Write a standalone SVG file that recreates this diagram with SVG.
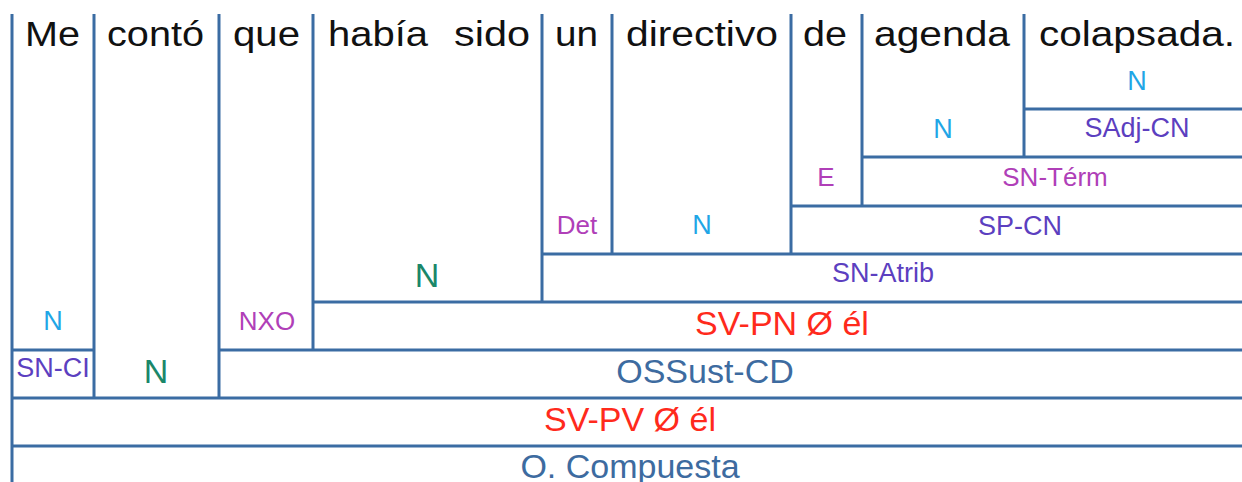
<svg xmlns="http://www.w3.org/2000/svg" width="1242" height="482" viewBox="0 0 1242 482">
<style>
text{font-family:"Liberation Sans",Arial,sans-serif}
.w{font-size:35px;fill:#111}
.l{stroke:#3B6CA3;stroke-width:3;fill:none;stroke-linecap:butt}
.cy{fill:#1FA6E6;font-size:27px;text-anchor:middle}
.mg{fill:#B03FB8;font-size:26px;text-anchor:middle}
.vi{fill:#5C3FC0;font-size:27px;text-anchor:middle}
.gr{fill:#1B8769;font-size:34px;text-anchor:middle}
.rd{fill:#FF2A1C;font-size:34px;text-anchor:middle}
.bl{fill:#3D6BA0;font-size:34px;text-anchor:middle}
</style>
<rect width="1242" height="482" fill="#fff"/>
<g id="connectors" class="l">
<path d="M12 14V482M94 14V398M219 14V398M313 14V350M542 14V302M612 14V254M791 14V254M862 14V206M1024 14V157"/>
<path d="M1024 109H1242M862 157H1242M791 206H1242M542 254H1242M313 302H1242M12 350H94M219 350H1242M12 398H1242M12 446H1242"/>
</g>
<g id="words">
<text class="w" x="25" y="46" textLength="55" lengthAdjust="spacingAndGlyphs">Me</text>
<text class="w" x="107" y="46" textLength="97" lengthAdjust="spacingAndGlyphs">contó</text>
<text class="w" x="233" y="46" textLength="67" lengthAdjust="spacingAndGlyphs">que</text>
<text class="w" x="328" y="46" textLength="100" lengthAdjust="spacingAndGlyphs">había</text>
<text class="w" x="454" y="46" textLength="76" lengthAdjust="spacingAndGlyphs">sido</text>
<text class="w" x="555" y="46" textLength="43" lengthAdjust="spacingAndGlyphs">un</text>
<text class="w" x="626" y="46" textLength="152" lengthAdjust="spacingAndGlyphs">directivo</text>
<text class="w" x="803" y="46" textLength="44" lengthAdjust="spacingAndGlyphs">de</text>
<text class="w" x="874" y="46" textLength="136" lengthAdjust="spacingAndGlyphs">agenda</text>
<text class="w" x="1039" y="46" textLength="196" lengthAdjust="spacingAndGlyphs">colapsada.</text>
</g>
<g id="n-colapsada"><text class="cy" x="1137" y="90">N</text></g>
<g id="n-agenda"><text class="cy" x="943" y="138">N</text></g>
<g id="sadj-cn"><text class="vi" x="1137" y="137">SAdj-CN</text></g>
<g id="e"><text class="mg" x="826" y="186">E</text></g>
<g id="sn-term"><text class="mg" x="1055" y="186" font-size="27">SN-Térm</text></g>
<g id="det"><text class="mg" x="577" y="234">Det</text></g>
<g id="n-directivo"><text class="cy" x="702" y="234">N</text></g>
<g id="sp-cn"><text class="vi" x="1020" y="235">SP-CN</text></g>
<g id="n-habia"><text class="gr" x="427" y="287">N</text></g>
<g id="sn-atrib"><text class="vi" x="883" y="282">SN-Atrib</text></g>
<g id="n-me"><text class="cy" x="53" y="330">N</text></g>
<g id="nxo"><text class="mg" x="267" y="330">NXO</text></g>
<g id="sv-pn"><text class="rd" x="782" y="335">SV-PN Ø él</text></g>
<g id="sn-ci"><text class="vi" x="53" y="377" font-size="26">SN-CI</text></g>
<g id="n-conto"><text class="gr" x="156" y="383">N</text></g>
<g id="ossust-cd"><text class="bl" x="705" y="383">OSSust-CD</text></g>
<g id="sv-pv"><text class="rd" x="630" y="431">SV-PV Ø él</text></g>
<g id="o-compuesta"><text class="bl" x="630" y="478">O. Compuesta</text></g>
</svg>
